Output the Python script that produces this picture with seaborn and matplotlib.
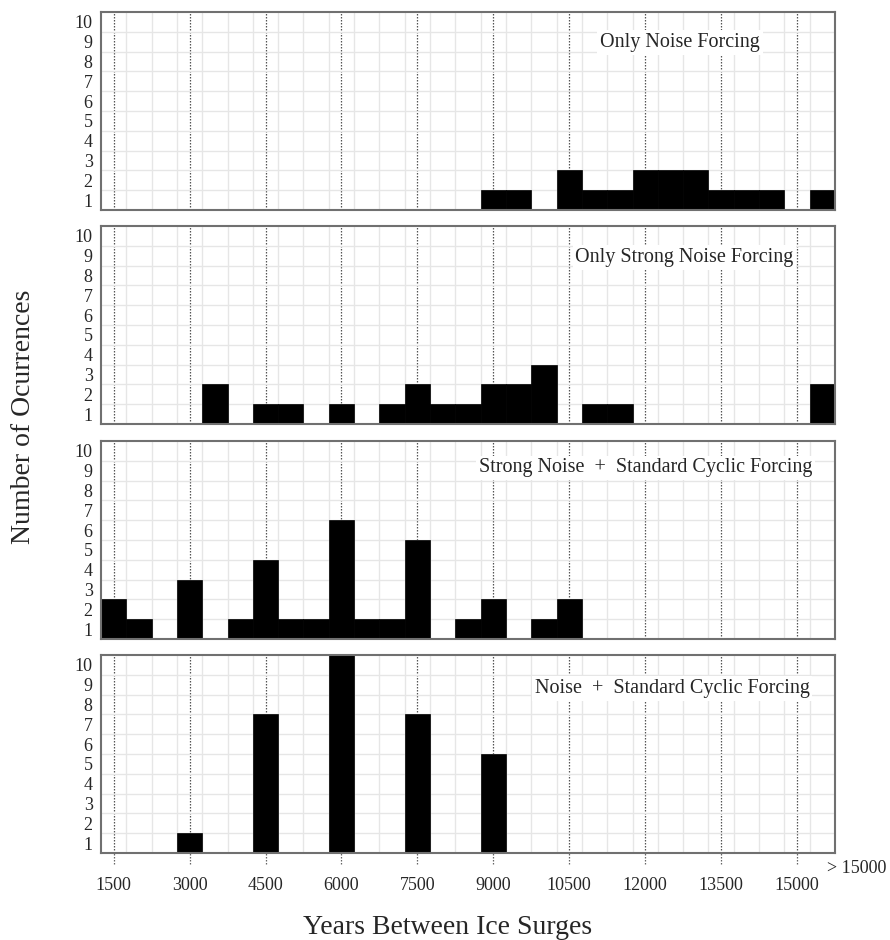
import numpy as np
import pandas as pd
import matplotlib
matplotlib.use("Agg")
import matplotlib.pyplot as plt
import seaborn as sns

# ---------------- data ----------------
bin_centers = [1500, 2000, 2500, 3000, 3500, 4000, 4500, 5000, 5500, 6000,
               6500, 7000, 7500, 8000, 8500, 9000, 9500, 10000, 10500, 11000,
               11500, 12000, 12500, 13000, 13500, 14000, 14500, 15000, 15500]

only_noise = [0, 0, 0, 0, 0, 0, 0, 0, 0, 0,
              0, 0, 0, 0, 0, 1, 1, 0, 2, 1,
              1, 2, 2, 2, 1, 1, 1, 0, 1]

only_strong_noise = [0, 0, 0, 0, 2, 0, 1, 1, 0, 1,
                     0, 1, 2, 1, 1, 2, 2, 3, 0, 1,
                     1, 0, 0, 0, 0, 0, 0, 0, 2]

strong_noise_cyclic = [2, 1, 0, 3, 0, 1, 4, 1, 1, 6,
                       1, 1, 5, 0, 1, 2, 0, 1, 2, 0,
                       0, 0, 0, 0, 0, 0, 0, 0, 0]

noise_cyclic = [0, 0, 0, 1, 0, 0, 7, 0, 0, 10,
                0, 0, 7, 0, 0, 5, 0, 0, 0, 0,
                0, 0, 0, 0, 0, 0, 0, 0, 0]

panel_titles = ["Only Noise Forcing",
                "Only Strong Noise Forcing",
                "Strong Noise  +  Standard Cyclic Forcing",
                "Noise  +  Standard Cyclic Forcing"]

x_tick_values = [1500, 3000, 4500, 6000, 7500, 9000, 10500, 12000, 13500, 15000]
count_labels = ["1", "2", "3", "4", "5", "6", "7", "8", "9", "10"]
overflow_label = "> 15000"
x_label = "Years Between Ice Surges"
y_label = "Number of Ocurrences"

series = [only_noise, only_strong_noise, strong_noise_cyclic, noise_cyclic]

# ---------------- style ----------------
sns.set_style("white")
plt.rcParams['font.family'] = ['Liberation Serif', 'DejaVu Serif']

bin_width = 500
x_min, x_max = 1250, 15750
edges = list(np.arange(x_min, x_max + 1, bin_width))

fig = plt.figure(figsize=(8.9, 9.4), dpi=100)
W, H = 890.0, 940.0
left = 101 / W
width = (835 - 101) / W
panel_tops = [12, 226, 441, 655]
panel_h = 198

title_pos = [(0.789, 0.845), (0.795, 0.84), (0.742, 0.864), (0.778, 0.83)]

axes = []
for i, (counts, title) in enumerate(zip(series, panel_titles)):
    top = panel_tops[i]
    ax = fig.add_axes([left, 1 - (top + panel_h) / H, width, panel_h / H])
    axes.append(ax)
    df = pd.DataFrame({"years": bin_centers, "count": counts})
    sns.histplot(data=df, x="years", weights="count", bins=edges, color="black",
                 edgecolor="black", linewidth=0.5, alpha=1.0, ax=ax)
    ax.set_xlim(x_min, x_max)
    ax.set_ylim(0, 10)
    ax.set_xlabel("")
    ax.set_ylabel("")

    # ticks / grid
    ax.set_xticks(x_tick_values)
    ax.set_xticks(edges[1:-1], minor=True)
    ax.set_yticks([int(c) - 0.5 for c in count_labels])
    ax.set_yticklabels(count_labels, fontsize=13)
    ax.set_yticks([int(c) for c in count_labels[:-1]], minor=True)
    ax.set_axisbelow(True)
    ax.grid(False)
    ax.grid(which="minor", axis="both", color="#e6e6e6", linewidth=1.0)
    ax.grid(which="major", axis="x", color="#555555", linewidth=0.9,
            linestyle=(0, (1.2, 1.2)))
    ax.tick_params(axis="y", which="both", length=0, pad=6)
    ax.tick_params(axis="x", which="both", length=0)

    for sp in ax.spines.values():
        sp.set_color("#707070")
        sp.set_linewidth(1.5)

    ax.text(title_pos[i][0], title_pos[i][1], title, transform=ax.transAxes,
            ha="center", va="center", fontsize=14.5, zorder=5,
            bbox=dict(facecolor="white", edgecolor="none", pad=2))

    if i < 3:
        ax.set_xticklabels([])
    else:
        ax.set_xticklabels([str(v) for v in x_tick_values], fontsize=13)
        ax.tick_params(axis="x", pad=17)
        ax.vlines(x_tick_values, -0.055, 0, transform=ax.get_xaxis_transform(),
                  colors="#666666", linestyles=(0, (1.2, 1.2)), linewidth=0.9,
                  clip_on=False)
        ax.text(16185, -0.076, overflow_label, transform=ax.get_xaxis_transform(),
                ha="center", va="center", fontsize=13, clip_on=False)

fig.text(0.026, 0.557, y_label, rotation=90, ha="center", va="center", fontsize=20)
fig.text(0.503, 0.0065, x_label, ha="center", va="baseline", fontsize=20)

fig.savefig("out.png", dpi=100)
